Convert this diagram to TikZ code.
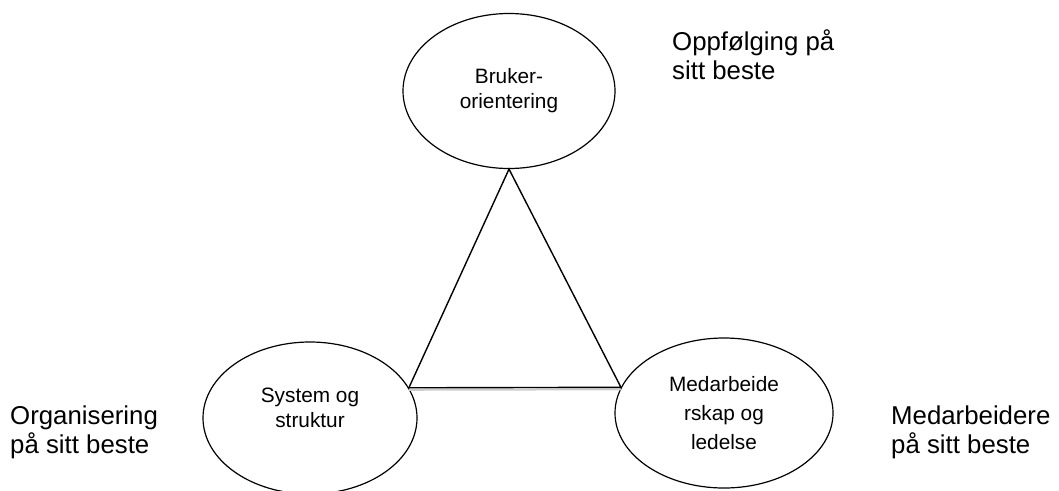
\documentclass[tikz,border=0pt]{standalone}
\usepackage{fontspec}
\setmainfont{Liberation Sans}
\usetikzlibrary{shapes.geometric}

\begin{document}
\begin{tikzpicture}[
        x=1pt,y=-1pt,
        bubble/.style={draw,ellipse,line width=1.2pt,inner sep=0pt,align=center,
          font=\fontsize{20.8}{25}\selectfont},
        side/.style={inner sep=0pt,align=left,anchor=base west,
          font=\fontsize{25.8}{29}\selectfont},
        edge/.style={line width=1.4pt,line join=miter}
      ]
      \useasboundingbox (0,0) rectangle (1059,490);
      % the three circles
      \node[bubble,minimum width=212,minimum height=155] (bruker) at (509,91) {Bruker-\\orientering};
      \node[bubble,minimum width=214,minimum height=152,text depth=20pt] (system) at (310,418) {System og\\struktur};
      \node[bubble,minimum width=218,minimum height=150,
        font=\fontsize{20.8}{29}\selectfont] (medarb) at (724,413) {Medarbeide\\rskap og\\ledelse};
      % triangle between them
      \draw[black!20,line width=2pt] ([yshift=-2pt]system.17) -- ([yshift=-2pt]medarb.166);
      \draw[edge] (bruker.south) -- (system.17) -- (medarb.166) -- cycle;
      % outer texts (base = last line)
      \node[side] (oppf) at (672,79) {Oppfølging på\\sitt beste};
      \node[side] (org) at (10,453) {Organisering\\på sitt beste};
      \node[side] (medb) at (891,453) {Medarbeidere\\på sitt beste};
    \end{tikzpicture}
\end{document}
